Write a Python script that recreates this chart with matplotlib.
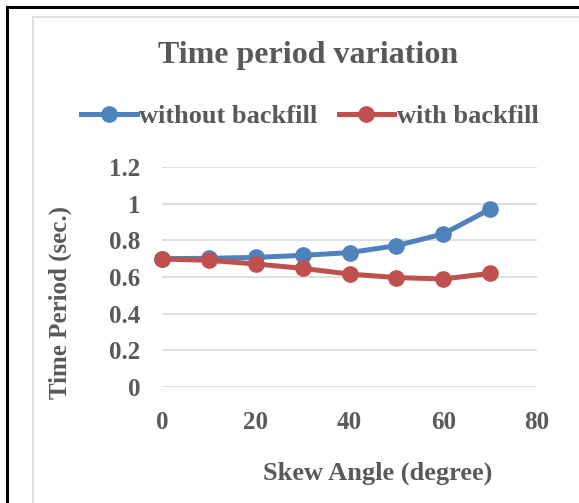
import matplotlib.pyplot as plt
from matplotlib.lines import Line2D

# skew angle (degree) and time period (sec.)
skew_angle = [0, 10, 20, 30, 40, 50, 60, 70]
without_backfill = [0.70, 0.702, 0.707, 0.718, 0.733, 0.771, 0.835, 0.97]
with_backfill = [0.698, 0.691, 0.671, 0.647, 0.616, 0.597, 0.589, 0.62]

x_ticks = [0, 20, 40, 60, 80]
y_ticks = [0, 0.2, 0.4, 0.6, 0.8, 1.0, 1.2]
y_tick_labels = ['0', '0.2', '0.4', '0.6', '0.8', '1', '1.2']

text_color = '#595959'
blue = '#4F81BD'
red = '#C0504D'

plt.rcParams['font.family'] = ['Liberation Serif', 'DejaVu Serif']
plt.rcParams['font.weight'] = 'bold'
plt.rcParams['axes.labelweight'] = 'bold'

fig = plt.figure(figsize=(5.79, 5.03), dpi=100)

# outer black frame (left and top) and grey chart border
fig.add_artist(Line2D([7 / 579, 7 / 579], [0, 1 - 7 / 503], color='black', lw=2.2))
fig.add_artist(Line2D([7 / 579, 1], [1 - 7 / 503, 1 - 7 / 503], color='black', lw=2.2))
fig.add_artist(Line2D([33 / 579, 33 / 579], [0, 1 - 17 / 503], color='#D9D9D9', lw=1.2))
fig.add_artist(Line2D([33 / 579, 1], [1 - 17 / 503, 1 - 17 / 503], color='#D9D9D9', lw=1.2))

ax = fig.add_axes([162 / 579, 1 - 387 / 503, 375 / 579, 220 / 503])

ax.plot(skew_angle, without_backfill, color=blue, lw=3.6, marker='o', ms=11,
        label='without backfill', clip_on=False, zorder=3)
ax.plot(skew_angle, with_backfill, color=red, lw=3.6, marker='o', ms=11,
        label='with backfill', clip_on=False, zorder=4)

ax.set_xlim(0, 80)
ax.set_ylim(0, 1.2)
ax.set_xticks(x_ticks)
ax.set_yticks(y_ticks)
ax.set_yticklabels(y_tick_labels)
ax.grid(axis='y', color='#D9D9D9', lw=1.2)
ax.set_axisbelow(True)

for side in ['top', 'right', 'left', 'bottom']:
    ax.spines[side].set_visible(False)
ax.xaxis.set_ticks_position('none')
ax.yaxis.set_ticks_position('none')
ax.tick_params(labelsize=18, colors=text_color, pad=12)
ax.xaxis.set_tick_params(pad=14)

ax.set_xlabel('Skew Angle (degree)', fontsize=19, color=text_color,
              fontweight='bold', va='center')
ax.xaxis.set_label_coords(0.576, -0.391)
ax.set_ylabel('Time Period (sec.)', fontsize=18, color=text_color,
              fontweight='bold', va='center', ha='center')
ax.yaxis.set_label_coords(-0.272, 0.386)

fig.text(0.532, 1 - 55 / 503, 'Time period variation', fontsize=23,
         color=text_color, ha='center', va='center', fontweight='bold')

leg = fig.legend(loc='center', bbox_to_anchor=(0.535, 1 - 116 / 503), ncol=2,
                 frameon=False, handlelength=2.1, handletextpad=0.1,
                 columnspacing=0.8, prop={'weight': 'bold', 'size': 19})
for t in leg.get_texts():
    t.set_color(text_color)

plt.savefig('out.png', dpi=100)
